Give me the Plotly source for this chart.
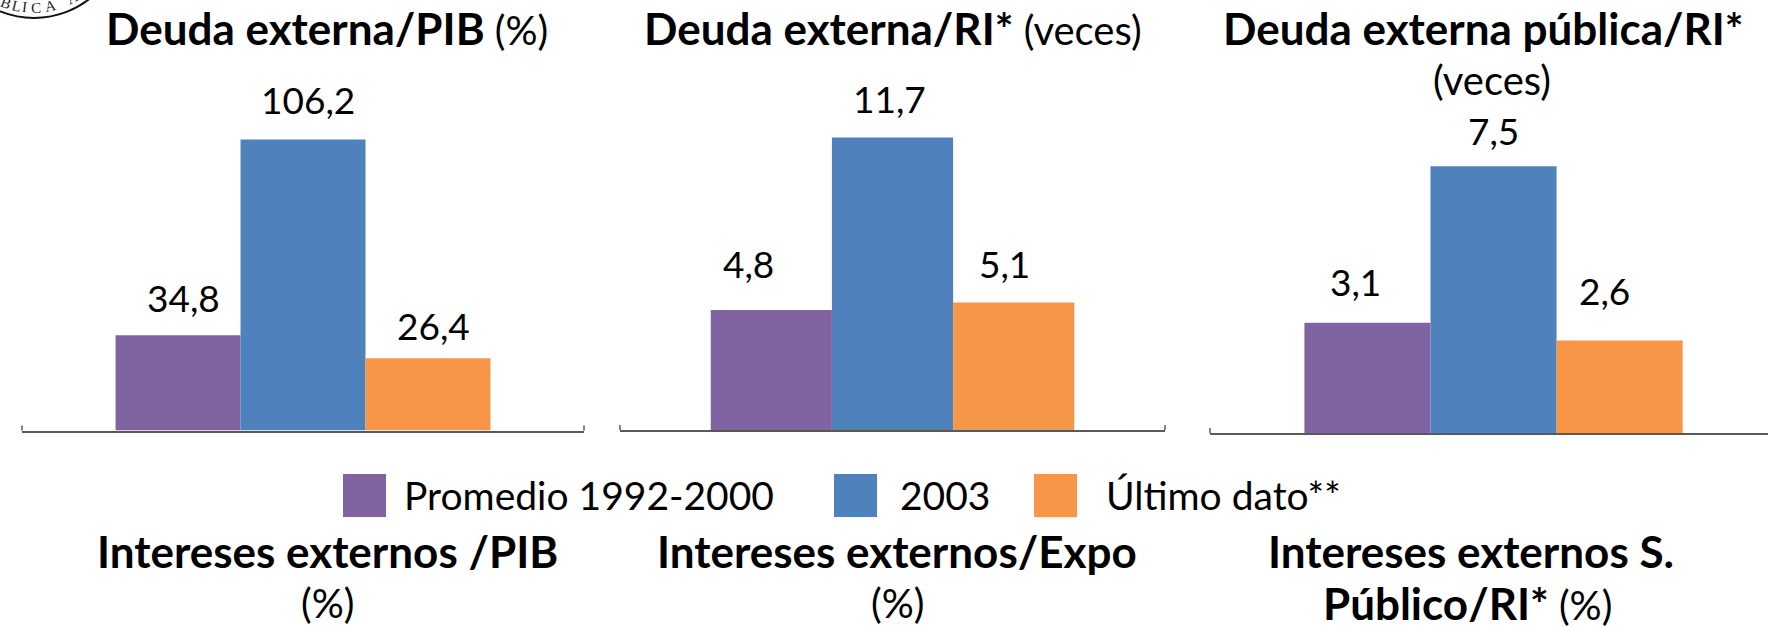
import math
import plotly.graph_objects as go

W, H = 1768, 627
FONT = "Lato"
INK = "#000000"
BOLD_PX = 44
PLAIN_PX = 40
LEGEND_PX = 39


def bold(text):
    return f'<span style="font-size:{BOLD_PX}px"><b>{text}</b></span>'


series = ["Promedio 1992-2000", "2003", "Último dato**"]
colors = ["#8064A2", "#4F81BD", "#F79646"]
category = ["Total"]

deuda_pib = [34.8, 106.2, 26.4]
deuda_ri = [4.8, 11.7, 5.1]
deuda_pub_ri = [3.1, 7.5, 2.6]
value_labels_1 = ["34,8", "106,2", "26,4"]
value_labels_2 = ["4,8", "11,7", "5,1"]
value_labels_3 = ["3,1", "7,5", "2,6"]

titles_top = [
    (bold("Deuda externa/PIB") + " (%)", 327, 28),
    (bold("Deuda externa/RI*") + " (veces)", 893, 28),
    (bold("Deuda externa pública/RI*"), 1483, 28),
    ("(veces)", 1492, 80),
]
titles_bottom = [
    (bold("Intereses externos /PIB"), 327, 551),
    ("(%)", 327, 603),
    (bold("Intereses externos/Expo"), 897, 551),
    ("(%)", 897, 603),
    (bold("Intereses externos S."), 1471, 551),
    (bold("Público/RI*") + " (%)", 1467, 603),
]

# fragment of the institutional seal cut off by the top-left corner
seal_letters = ["B", "L", "I", "C", "A", "A"]
seal_letter_x = [6, 16, 24, 36, 50, 72]
SEAL_CX, SEAL_CY, SEAL_R = 34, -72, 90

# panel layout, in pixels: axis start, axis end, top of plot, baseline, y max, x max
panels = [
    dict(x0=22, x1=584, top=100, base=430.5, ymax=120.6, xmax=0.5,
         vals=deuda_pib, labels=value_labels_1,
         dx=[5, 5, 6], dy=[38, 40, 33]),
    dict(x0=620, x1=1165, top=100, base=430, ymax=13.2, xmax=0.5,
         vals=deuda_ri, labels=value_labels_2,
         dx=[-23, -3, -9], dy=[47, 39, 39]),
    dict(x0=1210, x1=1768, top=100, base=433, ymax=9.36, xmax=0.484,
         vals=deuda_pub_ri, labels=value_labels_3,
         dx=[-12, 0, -15], dy=[41, 36, 50]),
]
BARGAP = 0.333
AXIS_COLOR = "#595959"
TICK_PX = 5

fig = go.Figure()
annotations = []
shapes = []

for i, p in enumerate(panels):
    sfx = "" if i == 0 else str(i + 1)
    for s, (name, col) in enumerate(zip(series, colors)):
        fig.add_trace(go.Bar(
            x=category, y=[p["vals"][s]], name=name,
            marker=dict(color=col, line=dict(width=0)),
            xaxis="x" + sfx, yaxis="y" + sfx,
            showlegend=False, hoverinfo="skip",
        ))
        annotations.append(dict(
            x=(s - 1) * (1 - BARGAP) / 3, y=p["vals"][s],
            xref="x" + sfx, yref="y" + sfx,
            text=p["labels"][s], showarrow=False,
            xshift=p["dx"][s], yshift=p["dy"][s],
            xanchor="center", yanchor="middle",
            font=dict(family=FONT, size=37, color=INK),
        ))
    fig.update_layout({
        "xaxis" + sfx: dict(
            domain=[p["x0"] / W, p["x1"] / W], anchor="y" + sfx,
            type="category", range=[-0.5, p["xmax"]],
            showline=True, linecolor=AXIS_COLOR, linewidth=2,
            ticks="", showticklabels=False, showgrid=False, zeroline=False,
        ),
        "yaxis" + sfx: dict(
            domain=[1 - p["base"] / H, 1 - p["top"] / H], anchor="x" + sfx,
            range=[0, p["ymax"]], visible=False, showgrid=False,
        ),
    })
    # small end ticks on the category axis
    for edge in ([0, 1] if p["xmax"] == 0.5 else [0]):
        shapes.append(dict(
            type="line", xref=f"x{sfx} domain", yref=f"y{sfx} domain",
            x0=edge, x1=edge, y0=0, y1=TICK_PX / (p["base"] - p["top"]),
            line=dict(color=AXIS_COLOR, width=1.5),
        ))

for text, x, y in titles_top + titles_bottom:
    annotations.append(dict(
        x=x / W, y=1 - y / H, xref="paper", yref="paper", text=text,
        showarrow=False, xanchor="center", yanchor="middle",
        font=dict(family=FONT, size=PLAIN_PX, color=INK),
    ))

# legend row
legend_swatch_x = [343, 834, 1034]
legend_text_x = [402, 898, 1104]
for name, col, sx, tx in zip(series, colors, legend_swatch_x, legend_text_x):
    shapes.append(dict(type="rect", xref="paper", yref="paper",
                       x0=sx / W, x1=(sx + 43) / W,
                       y0=1 - 517 / H, y1=1 - 474 / H,
                       fillcolor=col, line=dict(width=0)))
    annotations.append(dict(
        x=tx / W, y=1 - 495 / H, xref="paper", yref="paper", text=name,
        showarrow=False, xanchor="left", yanchor="middle",
        font=dict(family=FONT, size=LEGEND_PX, color=INK),
    ))

# seal fragment
shapes.append(dict(
    type="circle", xref="paper", yref="paper",
    x0=(SEAL_CX - SEAL_R) / W, x1=(SEAL_CX + SEAL_R) / W,
    y0=1 - (SEAL_CY + SEAL_R) / H, y1=1 - (SEAL_CY - SEAL_R) / H,
    line=dict(color="#111111", width=2), fillcolor="rgba(0,0,0,0)",
))
for letter, lx in zip(seal_letters, seal_letter_x):
    theta = math.asin((lx - SEAL_CX) / (SEAL_R - 10))
    ly = SEAL_CY + (SEAL_R - 10) * math.cos(theta)
    annotations.append(dict(
        x=lx / W, y=1 - ly / H, xref="paper", yref="paper", text=letter,
        showarrow=False, xanchor="center", yanchor="middle",
        textangle=-math.degrees(theta),
        font=dict(family="Liberation Serif", size=15, color="#222222"),
    ))

fig.update_layout(
    width=W, height=H, autosize=False,
    margin=dict(l=0, r=0, t=0, b=0, pad=0),
    paper_bgcolor="white", plot_bgcolor="white",
    barmode="group", bargap=BARGAP, bargroupgap=0,
    showlegend=False, annotations=annotations, shapes=shapes,
)

fig.write_html("out.html", config=dict(displayModeBar=False),
               post_script="document.body.style.margin='0';document.documentElement.style.overflow='hidden';")
